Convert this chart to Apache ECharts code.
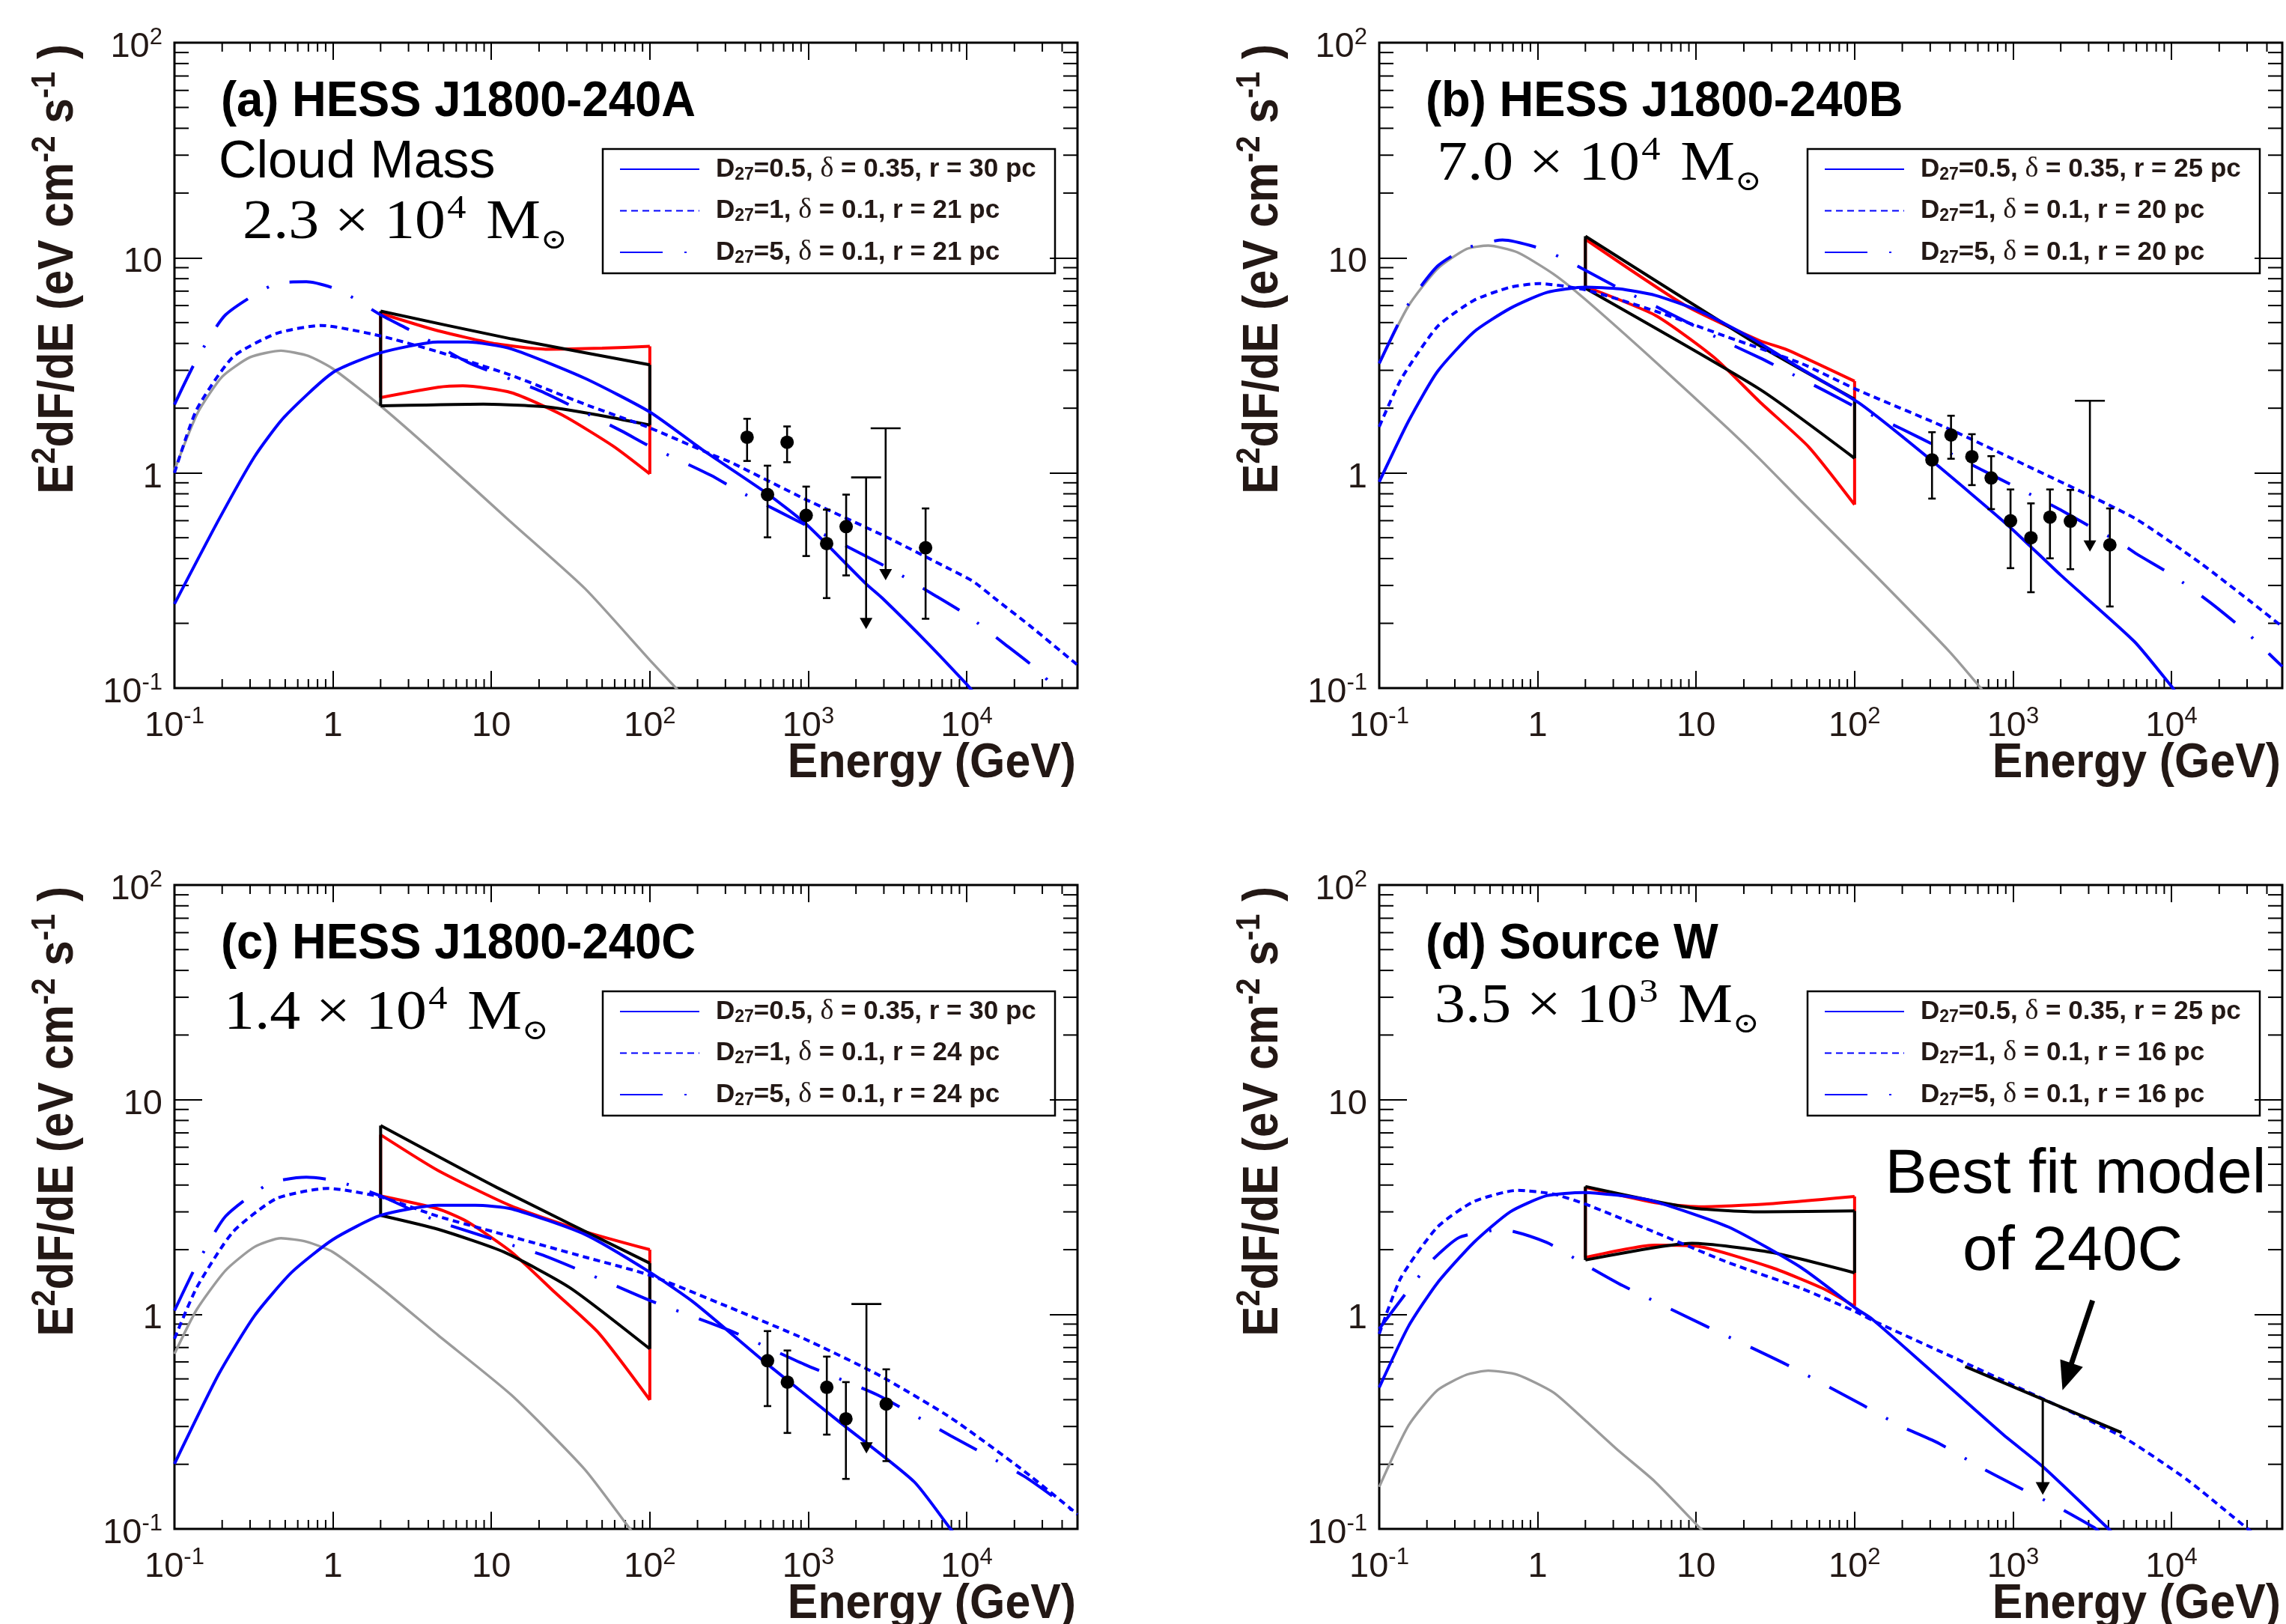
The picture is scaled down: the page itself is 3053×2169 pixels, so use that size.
<!DOCTYPE html>
<html>
<head>
<meta charset="utf-8">
<script src="https://cdn.jsdelivr.net/npm/echarts@6.0.0/dist/echarts.min.js"></script>
<style>
html,body{margin:0;padding:0;background:#ffffff;}
#chart{width:3053px;height:2169px;}
</style>
</head>
<body>
<div id="chart"></div>
<script>
// ---------------- tick labels ----------------
const X_DECADES = [0.1, 1, 10, 100, 1000, 10000];
const Y_DECADES = [0.1, 1, 10, 100];
const MINOR_MULT = [2, 3, 4, 5, 6, 7, 8, 9];
const DECADE_LABELS = {'-1': '{n|10}{p|-1}', '0': '{n|1}', '1': '{n|10}', '2': '{n|10}{p|2}', '3': '{n|10}{p|3}', '4': '{n|10}{p|4}'};

// ---------------- texts ----------------
const PANEL_TITLES = ['(a) HESS J1800-240A', '(b) HESS J1800-240B', '(c) HESS J1800-240C', '(d) Source W'];
const MASS_MANTISSA = ['2.3', '7.0', '1.4', '3.5'];
const MASS_EXPONENT = ['4', '4', '4', '3'];
const LEGEND_NAMES = [
  ['D27=0.5, δ = 0.35, r = 30 pc', 'D27=1, δ = 0.1, r = 21 pc', 'D27=5, δ = 0.1, r = 21 pc'],
  ['D27=0.5, δ = 0.35, r = 25 pc', 'D27=1, δ = 0.1, r = 20 pc', 'D27=5, δ = 0.1, r = 20 pc'],
  ['D27=0.5, δ = 0.35, r = 30 pc', 'D27=1, δ = 0.1, r = 24 pc', 'D27=5, δ = 0.1, r = 24 pc'],
  ['D27=0.5, δ = 0.35, r = 25 pc', 'D27=1, δ = 0.1, r = 16 pc', 'D27=5, δ = 0.1, r = 16 pc']
];

// ---------------- panel (a) ----------------
const A_GRAY = [[0.1,1.03],[0.14,1.9],[0.2,2.8],[0.3,3.45],[0.47,3.7],[0.7,3.5],[1,3.05],[2,2.05],[4.6,1.2],[13,0.6],[39,0.29],[100,0.135],[150,0.098]];
const A_SOLID = [[0.1,0.246],[0.19,0.605],[0.32,1.19],[0.49,1.81],[1,2.93],[2,3.62],[4.6,4.06],[7.1,4.06],[13.4,3.77],[38.7,2.76],[100,1.92],[212,1.29],[553,0.80],[970,0.578],[2317,0.305],[2930,0.262],[5750,0.160],[9890,0.105],[11000,0.096]];
const A_DOT = [[0.1,1.0],[0.138,1.97],[0.234,3.46],[0.44,4.45],[0.84,4.85],[2,4.33],[4.6,3.66],[13.4,2.84],[38.7,2.09],[100,1.62],[244,1.22],[325,1.12],[942,0.759],[3078,0.506],[7900,0.356],[11000,0.313],[15560,0.256],[25000,0.195],[50000,0.128]];
const A_DASH = [[0.1,2.08],[0.138,3.37],[0.21,5.43],[0.44,7.6],[0.68,7.74],[1.1,7.07],[2,5.43],[3.35,4.46],[7.1,3.27],[20.5,2.4],[66,1.57],[100,1.33],[244,0.974],[345,0.841],[632,0.67],[1081,0.548],[1968,0.436],[3400,0.353],[6070,0.274],[10070,0.218],[17400,0.160],[27800,0.122],[37000,0.098]];
const A_RED_UP = [[2,5.52],[4.6,4.58],[10.8,3.98],[22.7,3.76],[50,3.8],[100,3.88]];
const A_RED_LO = [[2,2.24],[4.6,2.5],[6.6,2.54],[13.4,2.36],[28,1.86],[59,1.33],[100,0.99]];
const A_BLACK_UP = [[2,5.65],[13.4,4.2],[100,3.18]];
const A_BLACK_LO = [[2,2.05],[8.9,2.09],[22,2.03],[47,1.86],[100,1.67]];
const A_PT_E = [411, 553, 735, 970, 1306, 1734, 5500];
const A_PT_F = [1.466, 0.793, 1.389, 0.635, 0.47, 0.563, 0.449];
const A_PT_LO = [1.137, 0.502, 1.122, 0.411, 0.262, 0.334, 0.21];
const A_PT_HI = [1.786, 1.081, 1.645, 0.864, 0.675, 0.793, 0.684];
const A_UL_E = [2317, 3078];
const A_UL_TOP = [0.953, 1.614];
const A_UL_TIP = [0.188, 0.317];

// ---------------- panel (b) ----------------
const B_GRAY = [[0.1,3.23],[0.153,5.98],[0.233,8.89],[0.356,11.0],[0.488,11.4],[0.745,10.6],[1.26,8.4],[2,6.4],[5.5,3.3],[16,1.6],[25.2,1.16],[46,0.74],[132,0.34],[396,0.148],[640,0.098]];
const B_SOLID = [[0.1,0.909],[0.153,1.74],[0.233,2.96],[0.395,4.52],[0.67,5.82],[1.14,6.9],[2,7.3],[3.27,7.17],[5.5,6.7],[10.5,5.66],[21.9,4.27],[46,3.05],[107,2.11],[307,1.14],[946,0.564],[2000,0.335],[5810,0.165],[10200,0.1],[10500,0.097]];
const B_DOT = [[0.1,1.64],[0.137,2.72],[0.233,4.79],[0.395,6.34],[0.67,7.3],[1.02,7.59],[2,7.1],[5.5,5.66],[16,4.27],[46,3.23],[102,2.45],[396,1.60],[1361,1.04],[5810,0.618],[15300,0.38],[32100,0.25],[50000,0.193]];
const B_DASH = [[0.1,3.23],[0.153,6.1],[0.233,9.14],[0.356,11.1],[0.6,12.1],[1.02,11.1],[1.56,9.66],[2.03,8.7],[3.27,7.22],[8,5.2],[15,4.1],[25.2,3.43],[34.9,3.04],[63.4,2.43],[109,1.97],[199,1.60],[343,1.31],[624,1.04],[1075,0.85],[1954,0.679],[3296,0.547],[4520,0.485],[6030,0.42],[10230,0.333],[17400,0.251],[28000,0.189],[36000,0.159],[50000,0.126]];
const B_RED_UP = [[2,12.2],[8.47,6.03],[25.2,4.12],[37.4,3.74],[100,2.67]];
const B_RED_LO = [[2,7.35],[5.56,5.39],[13,3.44],[25.2,2.14],[51.4,1.32],[100,0.712]];
const B_BLACK_UP = [[2,12.6],[25.2,3.9],[100,2.2]];
const B_BLACK_LO = [[2,7.22],[25.2,2.45],[100,1.17]];
const B_PT_E = [308, 406, 550, 728, 964, 1297, 1710, 2301, 4083];
const B_PT_F = [1.15, 1.501, 1.19, 0.948, 0.599, 0.50, 0.623, 0.597, 0.463];
const B_PT_LO = [0.760, 1.164, 0.878, 0.679, 0.361, 0.279, 0.401, 0.357, 0.2395];
const B_PT_HI = [1.547, 1.845, 1.514, 1.197, 0.838, 0.722, 0.838, 0.834, 0.684];
const B_UL_E = [3055];
const B_UL_TOP = [2.165];
const B_UL_TIP = [0.431];

// ---------------- panel (c) ----------------
const C_GRAY = [[0.1,0.654],[0.138,1.05],[0.21,1.6],[0.32,2.06],[0.47,2.26],[0.68,2.18],[1,1.95],[2,1.33],[4.6,0.8],[13.4,0.42],[38.7,0.19],[75,0.1],[80,0.095]];
const C_SOLID = [[0.1,0.201],[0.19,0.525],[0.32,0.984],[0.55,1.57],[1,2.23],[2,2.89],[4.6,3.22],[7.9,3.22],[13.4,3.1],[38.7,2.36],[100,1.57],[191,1.13],[553,0.585],[1600,0.312],[4650,0.166],[7900,0.1],[8300,0.096]];
const C_DOT = [[0.1,0.769],[0.138,1.33],[0.234,2.42],[0.44,3.46],[0.93,3.86],[2,3.52],[4.6,2.86],[13.4,2.3],[38.7,1.85],[100,1.52],[325,1.07],[942,0.769],[2730,0.525],[7900,0.33],[23000,0.186],[50000,0.117]];
const C_DASH = [[0.1,1.04],[0.138,1.70],[0.21,2.86],[0.4,4.08],[0.68,4.35],[1.04,4.19],[2,3.56],[4.6,2.71],[20.5,1.9],[38.7,1.57],[100,1.16],[325,0.836],[942,0.585],[2730,0.421],[7900,0.272],[23000,0.176],[50000,0.117]];
const C_RED_UP = [[2,6.86],[4.6,4.68],[13.4,3.19],[38.7,2.43],[100,2.0]];
const C_RED_LO = [[2,3.56],[4.6,3.1],[7.06,2.7],[13.4,1.95],[25.3,1.26],[47.9,0.813],[100,0.399]];
const C_BLACK_UP = [[2,7.57],[10.8,3.9],[100,1.73]];
const C_BLACK_LO = [[2,2.89],[4.6,2.49],[12,1.95],[31.3,1.33],[100,0.69]];
const C_PT_E = [553, 738, 1309, 1728, 3105];
const C_PT_F = [0.608, 0.483, 0.457, 0.326, 0.382];
const C_PT_LO = [0.3735, 0.28, 0.275, 0.171, 0.207];
const C_PT_HI = [0.835, 0.678, 0.635, 0.483, 0.554];
const C_UL_E = [2328];
const C_UL_TOP = [1.116];
const C_UL_TIP = [0.2246];

// ---------------- panel (d) ----------------
const D_GRAY = [[0.1,0.157],[0.153,0.303],[0.233,0.443],[0.356,0.523],[0.488,0.546],[0.745,0.523],[1.26,0.432],[2,0.32],[3.27,0.23],[5.5,0.166],[10.7,0.1],[11.5,0.095]];
const D_SOLID = [[0.1,0.456],[0.153,0.879],[0.233,1.40],[0.395,2.16],[0.67,3.0],[1.14,3.57],[1.93,3.69],[3.27,3.58],[5.5,3.35],[16,2.55],[46,1.65],[101,1.07],[129,0.95],[300,0.55],[867,0.275],[1540,0.195],[4010,0.1],[4300,0.095]];
const D_DOT = [[0.1,0.81],[0.137,1.48],[0.233,2.55],[0.395,3.35],[0.745,3.78],[1.26,3.63],[2,3.26],[5.5,2.41],[16,1.74],[46,1.32],[101,1.03],[129,0.938],[400,0.64],[1483,0.409],[5020,0.266],[12600,0.169],[30300,0.1],[32000,0.097]];
const D_DASH = [[0.1,0.855],[0.209,1.74],[0.32,2.28],[0.6,2.48],[1.14,2.16],[2.03,1.69],[3.44,1.36],[11.6,0.879],[37.2,0.583],[113,0.377],[196,0.301],[342,0.25],[604,0.196],[1052,0.158],[1862,0.128],[3243,0.1016],[3500,0.097]];
const D_RED_UP = [[2,3.9],[5.5,3.31],[10.4,3.17],[27,3.26],[100,3.54]];
const D_RED_LO = [[2,1.84],[5.5,2.1],[10.4,2.07],[30,1.65],[63,1.32],[100,1.09]];
const D_BLACK_UP = [[2,3.94],[9.4,3.13],[27,3.0],[100,3.03]];
const D_BLACK_LO = [[2,1.79],[9.4,2.14],[30,1.94],[100,1.56]];
const D_FIT = [[499,0.571],[4840,0.281]];
const D_UL_E = [1540];
const D_UL_TOP = [0.404];
const D_UL_TIP = [0.144];
const D_ARROW = [[3177, 1.16, 2052, 0.443]];   // tail E, tail F, head E, head F

// ---------------- layout & style ----------------
const GRIDS = [
  {left: 233, top: 57, width: 1206, height: 862},
  {left: 1842, top: 57, width: 1206, height: 862},
  {left: 233, top: 1182, width: 1206, height: 860},
  {left: 1842, top: 1182, width: 1206, height: 860}
];
const MASS_OFFSET = [[91, 242], [77, 164], [66, 173], [74, 164]];
const INK = '#231815';
const BLUE = '#0000ff', RED = '#ff0000', GRAY = '#9b9b9b', BLACK = '#000000';
const DOTTED = [9, 6];
const DASH_DOT = [57, 29, 3, 29];
const LW = 4;
const SMOOTH = 0.2;
const SANS = '"Liberation Sans", Arial, sans-serif';
const SERIF = '"Liberation Serif", "Times New Roman", serif';

const PANELS = [
  {gray: A_GRAY, solid: A_SOLID, dot: A_DOT, dash: A_DASH, rup: A_RED_UP, rlo: A_RED_LO, bup: A_BLACK_UP, blo: A_BLACK_LO, pe: A_PT_E, pf: A_PT_F, plo: A_PT_LO, phi: A_PT_HI, ue: A_UL_E, ut: A_UL_TOP, ub: A_UL_TIP},
  {gray: B_GRAY, solid: B_SOLID, dot: B_DOT, dash: B_DASH, rup: B_RED_UP, rlo: B_RED_LO, bup: B_BLACK_UP, blo: B_BLACK_LO, pe: B_PT_E, pf: B_PT_F, plo: B_PT_LO, phi: B_PT_HI, ue: B_UL_E, ut: B_UL_TOP, ub: B_UL_TIP},
  {gray: C_GRAY, solid: C_SOLID, dot: C_DOT, dash: C_DASH, rup: C_RED_UP, rlo: C_RED_LO, bup: C_BLACK_UP, blo: C_BLACK_LO, pe: C_PT_E, pf: C_PT_F, plo: C_PT_LO, phi: C_PT_HI, ue: C_UL_E, ut: C_UL_TOP, ub: C_UL_TIP},
  {gray: D_GRAY, solid: D_SOLID, dot: D_DOT, dash: D_DASH, rup: D_RED_UP, rlo: D_RED_LO, bup: D_BLACK_UP, blo: D_BLACK_LO, pe: [], pf: [], plo: [], phi: [], ue: [], ut: [], ub: []}
];

const X_MINOR = [];
X_DECADES.forEach(d => MINOR_MULT.forEach(m => { const v = +(d * m).toPrecision(3); if (v < 50000) X_MINOR.push(v); }));
const Y_MINOR = [];
Y_DECADES.slice(0, 3).forEach(d => MINOR_MULT.forEach(m => Y_MINOR.push(+(d * m).toPrecision(3))));

const LABEL_RICH = {
  n: {fontFamily: SANS, fontSize: 47, color: INK, lineHeight: 56},
  p: {fontFamily: SANS, fontSize: 31, color: INK, lineHeight: 24, verticalAlign: 'top'}
};
function decadeLabel(v) {
  const l = Math.log10(v);
  const e = Math.round(l);
  if (Math.abs(l - e) > 1e-6) return '';
  return DECADE_LABELS[String(e)] || '';
}
function legendFmt(name) {
  const m = name.match(/^D27(=[^,]*,) δ( = .*)$/);
  if (!m) return name;
  return '{b|D}{s|27}{b|' + m[1] + ' }{g|δ}{b|' + m[2] + '}';
}

function xAx(i, pos) {
  return {
    type: 'log', logBase: 10, gridIndex: i, position: pos, min: 0.1, max: 50000,
    axisLine: {show: false}, splitLine: {show: false}, minorTick: {show: false}, minorSplitLine: {show: false},
    axisPointer: {show: false},
    axisTick: {show: true, inside: true, length: 23, lineStyle: {color: BLACK, width: 2}},
    axisLabel: pos === 'bottom' ? {show: true, margin: 23, formatter: decadeLabel, rich: LABEL_RICH} : {show: false}
  };
}
function yAx(i, pos) {
  return {
    type: 'log', logBase: 10, gridIndex: i, position: pos, min: 0.1, max: 100,
    axisLine: {show: false}, splitLine: {show: false}, minorTick: {show: false}, minorSplitLine: {show: false},
    axisPointer: {show: false},
    axisTick: {show: true, inside: true, length: 37, lineStyle: {color: BLACK, width: 2}},
    axisLabel: pos === 'left' ? {show: true, margin: 16, padding: [12, 0, 0, 0], formatter: decadeLabel, rich: LABEL_RICH} : {show: false}
  };
}
function lineSeries(i, name, data, color, width, type, z, smooth) {
  const s = {
    type: 'line', data: data, xAxisIndex: 2 * i, yAxisIndex: 2 * i,
    symbol: 'none', showSymbol: false, smooth: smooth || false, clip: true, silent: true, z: z,
    lineStyle: {color: color, width: width, type: type}, itemStyle: {color: color},
    emphasis: {disabled: true}, animation: false
  };
  if (name) s.name = name;
  return s;
}
function edges(up, lo) {
  // vertical sides of a bow-tie, built from the end points of its two curves
  return [[up[0], lo[0]], [up[up.length - 1], lo[lo.length - 1]]];
}
function ulRender(capHalf, shaftW, headHalf, headLen) {
  return function (params, api) {
    const p1 = api.coord([api.value(0), api.value(1)]);
    const p2 = api.coord([api.value(0), api.value(2)]);
    const st = {stroke: BLACK, lineWidth: shaftW};
    const ch = [
      {type: 'line', shape: {x1: p1[0], y1: p1[1], x2: p1[0], y2: p2[1] - headLen + 2}, style: st},
      {type: 'polygon', shape: {points: [[p1[0] - headHalf, p2[1] - headLen], [p1[0] + headHalf, p2[1] - headLen], [p1[0], p2[1]]]}, style: {fill: BLACK}}
    ];
    if (capHalf) ch.push({type: 'line', shape: {x1: p1[0] - capHalf, y1: p1[1], x2: p1[0] + capHalf, y2: p1[1]}, style: st});
    return {type: 'group', children: ch};
  };
}

const option = {
  animation: false, backgroundColor: '#ffffff',
  grid: [], xAxis: [], yAxis: [], series: [], legend: [], graphic: []
};

PANELS.forEach((P, i) => {
  const G = GRIDS[i];
  option.grid.push({left: G.left, top: G.top, width: G.width, height: G.height, show: true, borderColor: BLACK, borderWidth: 3, backgroundColor: 'transparent'});
  option.xAxis.push(xAx(i, 'bottom'), xAx(i, 'top'));
  option.yAxis.push(yAx(i, 'left'), yAx(i, 'right'));
  const names = LEGEND_NAMES[i];

  // minor ticks on all four sides
  option.series.push({
    type: 'custom', coordinateSystem: 'cartesian2d', xAxisIndex: 2 * i, yAxisIndex: 2 * i, silent: true, z: 1,
    data: X_MINOR.map(v => [v, 1]),
    renderItem: function (params, api) {
      const cs = params.coordSys;
      const x = api.coord([api.value(0), api.value(1)])[0];
      const st = {stroke: BLACK, lineWidth: 2};
      return {type: 'group', children: [
        {type: 'line', shape: {x1: x, y1: cs.y + cs.height, x2: x, y2: cs.y + cs.height - 12}, style: st},
        {type: 'line', shape: {x1: x, y1: cs.y, x2: x, y2: cs.y + 12}, style: st}
      ]};
    }
  });
  option.series.push({
    type: 'custom', coordinateSystem: 'cartesian2d', xAxisIndex: 2 * i, yAxisIndex: 2 * i, silent: true, z: 1,
    data: Y_MINOR.map(v => [1, v]),
    renderItem: function (params, api) {
      const cs = params.coordSys;
      const y = api.coord([api.value(0), api.value(1)])[1];
      const st = {stroke: BLACK, lineWidth: 2};
      return {type: 'group', children: [
        {type: 'line', shape: {x1: cs.x, y1: y, x2: cs.x + 19, y2: y}, style: st},
        {type: 'line', shape: {x1: cs.x + cs.width, y1: y, x2: cs.x + cs.width - 19, y2: y}, style: st}
      ]};
    }
  });

  option.series.push(lineSeries(i, null, P.gray, GRAY, 3.4, 'solid', 2, SMOOTH));
  option.series.push(lineSeries(i, null, P.rup, RED, LW, 'solid', 3, SMOOTH));
  option.series.push(lineSeries(i, null, P.rlo, RED, LW, 'solid', 3, SMOOTH));
  edges(P.rup, P.rlo).forEach(e => option.series.push(lineSeries(i, null, e, RED, LW, 'solid', 3)));
  option.series.push(lineSeries(i, null, P.bup, BLACK, LW, 'solid', 4, SMOOTH));
  option.series.push(lineSeries(i, null, P.blo, BLACK, LW, 'solid', 4, SMOOTH));
  edges(P.bup, P.blo).forEach(e => option.series.push(lineSeries(i, null, e, BLACK, LW, 'solid', 4)));
  option.series.push(lineSeries(i, names[0], P.solid, BLUE, LW, 'solid', 5, SMOOTH));
  option.series.push(lineSeries(i, names[1], P.dot, BLUE, LW, DOTTED, 5, SMOOTH));
  option.series.push(lineSeries(i, names[2], P.dash, BLUE, LW, DASH_DOT, 5, SMOOTH));

  if (P.pe.length) {
    option.series.push({
      type: 'custom', coordinateSystem: 'cartesian2d', xAxisIndex: 2 * i, yAxisIndex: 2 * i, silent: true, z: 6,
      data: P.pe.map((e, k) => [e, P.pf[k], P.plo[k], P.phi[k]]),
      renderItem: function (params, api) {
        const x = api.coord([api.value(0), api.value(1)])[0];
        const yl = api.coord([api.value(0), api.value(2)])[1];
        const yh = api.coord([api.value(0), api.value(3)])[1];
        const st = {stroke: BLACK, lineWidth: 2.6};
        return {type: 'group', children: [
          {type: 'line', shape: {x1: x, y1: yl, x2: x, y2: yh}, style: st},
          {type: 'line', shape: {x1: x - 5, y1: yl, x2: x + 5, y2: yl}, style: st},
          {type: 'line', shape: {x1: x - 5, y1: yh, x2: x + 5, y2: yh}, style: st}
        ]};
      }
    });
    option.series.push({
      type: 'scatter', xAxisIndex: 2 * i, yAxisIndex: 2 * i, silent: true, z: 7,
      symbol: 'circle', symbolSize: 18, itemStyle: {color: BLACK, opacity: 1},
      data: P.pe.map((e, k) => [e, P.pf[k]])
    });
  }
  if (P.ue.length) {
    option.series.push({
      type: 'custom', coordinateSystem: 'cartesian2d', xAxisIndex: 2 * i, yAxisIndex: 2 * i, silent: true, z: 6,
      data: P.ue.map((e, k) => [e, P.ut[k], P.ub[k]]),
      renderItem: ulRender(20, 2.6, 8.5, 15)
    });
  }

  // legend
  option.legend.push({
    data: names, orient: 'vertical', left: G.left + 594, top: G.top + 150,
    itemWidth: 106, itemHeight: 4, itemGap: 17.5, padding: 0, selectedMode: false,
    itemStyle: {opacity: 0},
    formatter: legendFmt,
    textStyle: {
      padding: [0, 0, 0, 17],
      rich: {
        b: {fontFamily: SANS, fontWeight: 'bold', fontSize: 35, color: INK, lineHeight: 38},
        s: {fontFamily: SANS, fontWeight: 'bold', fontSize: 23, color: INK, lineHeight: 20, verticalAlign: 'bottom'},
        g: {fontFamily: SERIF, fontSize: 38, color: INK, lineHeight: 38}
      }
    }
  });
  option.graphic.push({type: 'rect', shape: {x: G.left + 572, y: G.top + 142, width: 604, height: 166}, style: {fill: 'none', stroke: BLACK, lineWidth: 2.5}, silent: true, z: 5});

  // panel title
  option.graphic.push({type: 'text', x: G.left + 62, y: G.top + 80, scaleX: 0.96, silent: true, z: 10,
    style: {text: PANEL_TITLES[i], fill: BLACK, fontFamily: SANS, fontWeight: 'bold', fontSize: 66, align: 'left', verticalAlign: 'middle'}});
  // mass label
  option.graphic.push({type: 'text', x: G.left + MASS_OFFSET[i][0], y: G.top + MASS_OFFSET[i][1], scaleX: 1.12, silent: true, z: 10,
    style: {text: '{m|' + MASS_MANTISSA[i] + ' × 10}{e|' + MASS_EXPONENT[i] + '}{m|M}{o|⊙}', align: 'left', verticalAlign: 'middle',
      rich: {
        m: {fontFamily: SERIF, fontSize: 73, fill: BLACK, lineHeight: 84},
        e: {fontFamily: SERIF, fontSize: 45, fill: BLACK, lineHeight: 44, verticalAlign: 'top', padding: [0, 24, 0, 2]},
        o: {fontFamily: '"DejaVu Serif", serif', fontSize: 38, fill: BLACK, lineHeight: 36, verticalAlign: 'bottom'}
      }}});
  // axis titles
  option.graphic.push({type: 'text', x: G.left + G.width - 2, y: G.top + G.height + 101, scaleX: 0.95, silent: true, z: 10,
    style: {text: 'Energy (GeV)', fill: INK, fontFamily: SANS, fontWeight: 'bold', fontSize: 64, align: 'right', verticalAlign: 'middle'}});
  option.graphic.push({type: 'text', x: G.left - 154, y: G.top + 2, rotation: Math.PI / 2, scaleX: 0.91, silent: true, z: 10,
    style: {text: '{t|E}{s|2}{t|dF/dE (eV cm}{s|-2}{t| s}{s|-1}{t| )}', align: 'right', verticalAlign: 'middle',
      rich: {
        t: {fontFamily: SANS, fontWeight: 'bold', fontSize: 66, fill: INK, lineHeight: 80},
        s: {fontFamily: SANS, fontWeight: 'bold', fontSize: 44, fill: INK, lineHeight: 44, verticalAlign: 'top'}
      }}});
});

// panel (a) extra text
option.graphic.push({type: 'text', x: GRIDS[0].left + 59, y: GRIDS[0].top + 161, silent: true, z: 10,
  style: {text: 'Cloud Mass', fill: BLACK, fontFamily: SANS, fontSize: 70, align: 'left', verticalAlign: 'middle'}});

// panel (d) extras: best fit model of 240C
option.series.push(lineSeries(3, null, D_FIT, BLACK, LW, 'solid', 6));
option.series.push({
  type: 'custom', coordinateSystem: 'cartesian2d', xAxisIndex: 6, yAxisIndex: 6, silent: true, z: 6,
  data: D_UL_E.map((e, k) => [e, D_UL_TOP[k], D_UL_TIP[k]]),
  renderItem: ulRender(0, 3, 9.5, 17)
});
option.series.push({
  type: 'custom', coordinateSystem: 'cartesian2d', xAxisIndex: 6, yAxisIndex: 6, silent: true, z: 6,
  data: D_ARROW,
  renderItem: function (params, api) {
    const t = api.coord([api.value(0), api.value(1)]);
    const h = api.coord([api.value(2), api.value(3)]);
    const dx = h[0] - t[0], dy = h[1] - t[1], L = Math.hypot(dx, dy), ux = dx / L, uy = dy / L;
    const bx = h[0] - ux * 38, by = h[1] - uy * 38;
    return {type: 'group', children: [
      {type: 'line', shape: {x1: t[0], y1: t[1], x2: bx + ux * 3, y2: by + uy * 3}, style: {stroke: BLACK, lineWidth: 7}},
      {type: 'polygon', shape: {points: [[h[0], h[1]], [bx - uy * 16, by + ux * 16], [bx + uy * 16, by - ux * 16]]}, style: {fill: BLACK}}
    ]};
  }
});
option.graphic.push({type: 'text', x: 2772, y: 1570, silent: true, z: 10,
  style: {text: 'Best fit model', fill: BLACK, fontFamily: SANS, fontSize: 84, align: 'center', verticalAlign: 'middle'}});
option.graphic.push({type: 'text', x: 2768, y: 1673, silent: true, z: 10,
  style: {text: 'of 240C', fill: BLACK, fontFamily: SANS, fontSize: 84, align: 'center', verticalAlign: 'middle'}});

const chart = echarts.init(document.getElementById('chart'), null, {renderer: 'canvas', width: 3053, height: 2169});
chart.setOption(option);
</script>
</body>
</html>
